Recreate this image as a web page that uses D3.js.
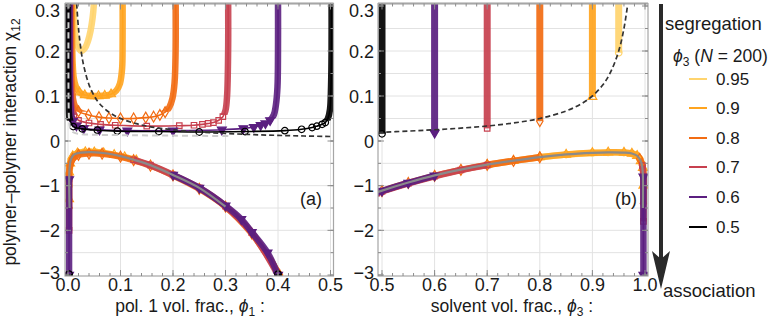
<!DOCTYPE html>
<html>
<head>
<meta charset="utf-8">
<script src="https://cdn.jsdelivr.net/npm/d3@7"></script>
<style>
  html, body { margin: 0; padding: 0; background: #fff; }
  svg { display: block; font-family: "Liberation Sans", Arial, sans-serif; }
</style>
</head>
<body>
<svg id="chart" width="768" height="319"></svg>
<script>
// ---------- values ----------
var phi3 = [0.95, 0.9, 0.8, 0.7, 0.6, 0.5];
var phi3Labels = ["0.95", "0.9", "0.8", "0.7", "0.6", "0.5"];

var xTicksA = [0, 0.1, 0.2, 0.3, 0.4, 0.5];
var xTickLabelsA = ["0.0", "0.1", "0.2", "0.3", "0.4", "0.5"];
var xTicksB = [0.5, 0.6, 0.7, 0.8, 0.9, 1.0];
var xTickLabelsB = ["0.5", "0.6", "0.7", "0.8", "0.9", "1.0"];
var yTicks = [0.3, 0.2, 0.1, 0, -1, -2, -3];
var yTickLabels = ["0.3", "0.2", "0.1", "0", "\u22121", "\u22122", "\u22123"];
var yGrid = [0.25, 0.2, 0.15, 0.1, 0.05, -0.5, -1, -1.5, -2, -2.5];

// (a) segregation branch, chi12 vs phi1 (one U per phi3)
var segA095 = [[0.011,0.33],[0.011,0.29],[0.012,0.26],[0.014,0.235],[0.018,0.212],[0.025,0.2],[0.032,0.206],[0.038,0.222],[0.043,0.245],[0.047,0.275],[0.049,0.3],[0.05,0.33]];
var segA09 = [[0.008,0.33],[0.008,0.22],[0.009,0.17],[0.011,0.14],[0.015,0.121],[0.022,0.108],[0.032,0.102],[0.045,0.1],[0.058,0.1],[0.07,0.101],[0.082,0.104],[0.092,0.112],[0.099,0.128],[0.103,0.16],[0.104,0.22],[0.104,0.33]];
var segA08 = [[0.006,0.33],[0.006,0.2],[0.007,0.13],[0.009,0.098],[0.013,0.078],[0.02,0.066],[0.039,0.058],[0.059,0.053],[0.078,0.051],[0.1,0.05],[0.125,0.05],[0.148,0.052],[0.163,0.054],[0.175,0.058],[0.185,0.064],[0.193,0.075],[0.199,0.095],[0.203,0.13],[0.205,0.2],[0.205,0.33]];
var segA07 = [[0.004,0.33],[0.004,0.2],[0.005,0.11],[0.007,0.075],[0.011,0.056],[0.02,0.046],[0.04,0.04],[0.062,0.037],[0.09,0.035],[0.15,0.033],[0.212,0.034],[0.24,0.035],[0.256,0.037],[0.267,0.039],[0.277,0.041],[0.287,0.046],[0.295,0.054],[0.3,0.068],[0.303,0.1],[0.305,0.2],[0.305,0.33]];
var segA06 = [[0.003,0.33],[0.003,0.2],[0.004,0.1],[0.006,0.06],[0.009,0.044],[0.016,0.034],[0.03,0.028],[0.06,0.025],[0.113,0.023],[0.2,0.023],[0.293,0.025],[0.334,0.028],[0.354,0.031],[0.367,0.035],[0.376,0.039],[0.385,0.046],[0.392,0.058],[0.396,0.08],[0.399,0.12],[0.4,0.2],[0.4,0.33]];
var segA05 = [[0.0,0.33],[0.0,0.2],[0.001,0.1],[0.003,0.05],[0.01,0.032],[0.027,0.027],[0.056,0.024],[0.094,0.022],[0.173,0.021],[0.25,0.02],[0.337,0.021],[0.413,0.023],[0.445,0.026],[0.465,0.03],[0.474,0.033],[0.484,0.037],[0.49,0.041],[0.495,0.05],[0.499,0.07],[0.501,0.12],[0.502,0.2],[0.502,0.33]];

// (a) association branch (chi12 < 0), may have several pieces
var assocA095 = [[[0.002,-1.0],[0.003,-0.6],[0.006,-0.42],[0.011,-0.32],[0.019,-0.27],[0.03,-0.248],[0.042,-0.245],[0.053,-0.25],[0.063,-0.26]]];
var assocA09 = [[[0.002,-1.3],[0.002,-0.7],[0.004,-0.5],[0.009,-0.34],[0.018,-0.275],[0.033,-0.25],[0.05,-0.252],[0.068,-0.27],[0.088,-0.31],[0.108,-0.36],[0.13,-0.43]]];
var assocA08 = [[[0.002,-1.5],[0.002,-0.8],[0.004,-0.55],[0.009,-0.4],[0.02,-0.31],[0.04,-0.28],[0.065,-0.285],[0.1,-0.35],[0.125,-0.43],[0.157,-0.55],[0.2,-0.77],[0.25,-1.07],[0.3,-1.47],[0.35,-2.07],[0.39,-2.75],[0.403,-3.0]]];
var assocA07 = [[[0.002,-2.0],[0.002,-0.85]],[[0.125,-0.42],[0.157,-0.54],[0.2,-0.76],[0.25,-1.05],[0.3,-1.46],[0.35,-2.05],[0.4,-3.0]]];
var assocA06 = [[[0.002,-3.0],[0.002,-0.86]],[[0.2,-0.76],[0.25,-1.05],[0.3,-1.45],[0.33,-1.75],[0.35,-2.04],[0.38,-2.5],[0.4,-3.0]]];
var assocA05 = [[[0.002,-2.98],[0.002,-3.1]],[[0.4,-2.98],[0.402,-3.1]]];
var grayA = [[0.003,-1.5],[0.003,-0.6],[0.006,-0.4],[0.012,-0.3],[0.025,-0.26],[0.045,-0.25],[0.075,-0.28],[0.1,-0.34],[0.125,-0.42],[0.157,-0.54],[0.2,-0.76],[0.25,-1.05],[0.3,-1.47]];

// critical lines (dashed)
var critA = [[0.0165,0.305],[0.02,0.25],[0.025,0.2],[0.03,0.167],[0.04,0.125],[0.05,0.1],[0.06,0.083],[0.08,0.0625],[0.1,0.05],[0.13,0.0385],[0.16,0.031],[0.2,0.025],[0.25,0.02],[0.3,0.0167],[0.35,0.0143],[0.4,0.0125],[0.45,0.0111],[0.5,0.01],[0.51,0.0098]];
var lightA = [[0.001,0.33],[0.001,0.1],[0.002,0.05],[0.004,0.03],[0.009,0.02],[0.02,0.016],[0.05,0.014],[0.1,0.013],[0.2,0.012],[0.31,0.011]];
var critB = [[0.493,0.019],[0.55,0.022],[0.6,0.025],[0.65,0.0286],[0.7,0.0333],[0.75,0.04],[0.8,0.05],[0.85,0.0667],[0.88,0.0833],[0.9,0.1],[0.92,0.125],[0.935,0.154],[0.95,0.2],[0.96,0.25],[0.967,0.303]];

// (b) segregation: vertical band at phi3 starting from this chi
var segBmin = [0.196, 0.098, 0.044, 0.028, 0.018, 0.016];

// (b) association branch, chi12 vs phi3
var assocB095 = [[[0.8,-0.365],[0.85,-0.305],[0.9,-0.268],[0.93,-0.257],[0.96,-0.26],[0.975,-0.28],[0.985,-0.33],[0.99,-0.4]]];
var assocB09 = [[[0.7,-0.535],[0.75,-0.445],[0.8,-0.362],[0.85,-0.302],[0.9,-0.265],[0.93,-0.255],[0.96,-0.258],[0.975,-0.28],[0.985,-0.33],[0.992,-0.45],[0.996,-0.6],[0.997,-1.0]]];
var assocB08 = [[[0.5,-1.12],[0.55,-0.94],[0.6,-0.78],[0.65,-0.645],[0.7,-0.535],[0.75,-0.445],[0.8,-0.365]],[[0.99,-0.4],[0.995,-0.55],[0.997,-0.8],[0.997,-1.4]]];
var assocB07 = [[[0.49,-1.17],[0.5,-1.13],[0.55,-0.95],[0.6,-0.79],[0.65,-0.65],[0.7,-0.54]],[[0.995,-0.55],[0.997,-0.8],[0.997,-1.8]]];
var assocB06 = [[[0.49,-1.16],[0.5,-1.12],[0.55,-0.94],[0.6,-0.775]],[[0.997,-0.8],[0.997,-3.0]]];
var assocB05 = [];
var grayB = [[0.49,-1.15],[0.5,-1.11],[0.55,-0.93],[0.6,-0.77],[0.65,-0.64],[0.7,-0.53],[0.75,-0.44],[0.8,-0.36],[0.85,-0.3],[0.9,-0.265],[0.93,-0.255],[0.96,-0.26],[0.975,-0.28],[0.985,-0.33],[0.992,-0.45],[0.995,-0.6],[0.996,-0.8],[0.996,-1.5]];

// ---------- styles ----------
var colors = ["#FFD46E", "#FFA41F", "#F26C13", "#C7404F", "#5B1F80", "#000000"];
var shapes = ["circle", "triangle", "diamond", "square", "down", "circle"];
// chi above which the markers pile up into a solid band, and top of visible single markers
var segBandFrom = [0, 0, 0.065, 0.058, 0.05, 0.045];
var segMarkTo = [0, 0.11, 0.07, 0.06, 0.05, 0.045];
var segA = [segA095, segA09, segA08, segA07, segA06, segA05];
var assocA = [assocA095, assocA09, assocA08, assocA07, assocA06, assocA05];
var assocB = [assocB095, assocB09, assocB08, assocB07, assocB06, assocB05];

var frameTop = 3.5, frameBottom = 276;
var y = d3.scaleLinear().domain([-3, 0, 0.3]).range([275, 141, 6]);
var xA = d3.scaleLinear().domain([0, 0.5]).range([68, 330.5]);
var xB = d3.scaleLinear().domain([0.5, 1]).range([382, 645]);

var svg = d3.select("#chart");
var defs = svg.append("defs");

function panel(id, x, fx0, fx1, xTicks, xLabels, yLabelX) {
    var g = svg.append("g").attr("class", "panel-" + id);

    // grid
    g.selectAll(".vgrid").data(xTicks).enter().append("line")
        .attr("x1", function (d) { return x(d); }).attr("x2", function (d) { return x(d); })
        .attr("y1", frameTop).attr("y2", frameBottom)
        .attr("stroke", "#e2e2e2").attr("stroke-width", 1);
    g.selectAll(".hgrid").data(yGrid).enter().append("line")
        .attr("x1", fx0).attr("x2", fx1)
        .attr("y1", function (d) { return y(d); }).attr("y2", function (d) { return y(d); })
        .attr("stroke", "#e2e2e2").attr("stroke-width", 1);

    defs.append("clipPath").attr("id", "clip-" + id)
        .append("rect").attr("x", fx0).attr("y", frameTop)
        .attr("width", fx1 - fx0).attr("height", frameBottom - frameTop);

    var plot = g.append("g").attr("clip-path", "url(#clip-" + id + ")");
    var over = g.append("g");

    // frame and ticks (inward, all four sides)
    over.append("rect").attr("x", fx0).attr("y", frameTop)
        .attr("width", fx1 - fx0).attr("height", frameBottom - frameTop)
        .attr("fill", "none").attr("stroke", "#a6a6a6").attr("stroke-width", 1.2);
    over.append("line").attr("x1", fx0).attr("x2", fx1)
        .attr("y1", frameTop).attr("y2", frameTop)
        .attr("stroke", "#a6a6a6").attr("stroke-width", 2);

    var dom = x.domain();
    var xMinor = d3.range(dom[0], dom[1] + 1e-9, 0.02);
    var yMinor = d3.range(0, 0.3001, 0.05).concat(d3.range(0, -3.001, -0.5));
    function xt(v, len) {
        over.append("line").attr("x1", x(v)).attr("x2", x(v))
            .attr("y1", frameBottom).attr("y2", frameBottom - len)
            .attr("stroke", "#8c8c8c").attr("stroke-width", 1);
        over.append("line").attr("x1", x(v)).attr("x2", x(v))
            .attr("y1", frameTop).attr("y2", frameTop + len)
            .attr("stroke", "#8c8c8c").attr("stroke-width", 1);
    }
    function yt(v, len) {
        over.append("line").attr("x1", fx0).attr("x2", fx0 + len)
            .attr("y1", y(v)).attr("y2", y(v))
            .attr("stroke", "#8c8c8c").attr("stroke-width", 1);
        over.append("line").attr("x1", fx1).attr("x2", fx1 - len)
            .attr("y1", y(v)).attr("y2", y(v))
            .attr("stroke", "#8c8c8c").attr("stroke-width", 1);
    }
    xMinor.forEach(function (v) { xt(v, 3); });
    xTicks.forEach(function (v) { xt(v, 6); });
    yMinor.forEach(function (v) { yt(v, 3); });
    yTicks.forEach(function (v) { yt(v, 6); });

    g.selectAll(".xl").data(xTicks).enter().append("text")
        .attr("x", function (d) { return x(d); }).attr("y", 291)
        .attr("text-anchor", "middle").attr("font-size", 18).attr("fill", "#1a1a1a")
        .text(function (d, i) { return xLabels[i]; });
    g.selectAll(".yl").data(yTicks).enter().append("text")
        .attr("x", yLabelX)
        .attr("y", function (d) { return Math.min(Math.max(y(d), 10), 272) + 6.5; })
        .attr("text-anchor", "end").attr("font-size", 18).attr("fill", "#1a1a1a")
        .text(function (d, i) { return yTickLabels[i]; });

    return { plot: plot, over: over };
}

function marker(sel, shape, color, px, py) {
    var type = d3.symbolCircle;
    if (shape === "triangle" || shape === "down") type = d3.symbolTriangle;
    if (shape === "diamond") type = d3.symbolDiamond;
    if (shape === "square") type = d3.symbolSquare;
    var filled = shape === "down";
    sel.append("path")
        .attr("d", d3.symbol().type(type).size(shape === "square" ? 30 : 34)())
        .attr("transform", "translate(" + px + "," + py + ")" + (shape === "down" ? " rotate(180)" : ""))
        .attr("fill", filled ? color : "none")
        .attr("stroke", color).attr("stroke-width", 1.2);
}

function drawSeries(layer, x, pts, color, shape, bandClip, markTo) {
    var line = d3.line()
        .x(function (d) { return x(d[0]); })
        .y(function (d) { return y(d[1]); })
        .curve(d3.curveCatmullRom.alpha(0.5));
    var band = layer.append("path").datum(pts)
        .attr("d", line).attr("fill", "none")
        .attr("stroke", color).attr("stroke-width", 6.5)
        .attr("stroke-linejoin", "round").attr("opacity", 0.9);
    if (bandClip) band.attr("clip-path", "url(#" + bandClip + ")");
    layer.append("path").datum(pts)
        .attr("d", line).attr("fill", "none")
        .attr("stroke", color).attr("stroke-width", 1.6);
    pts.forEach(function (d) {
        if (d[1] <= markTo && d[1] >= -3.05) marker(layer, shape, color, x(d[0]), y(d[1]));
    });
}

// ---------- panel (a) ----------
var pa = panel("a", xA, 65, 333.5, xTicksA, xTickLabelsA, 60);

segA.forEach(function (pts, i) {
    var cid = "band-a-" + i;
    defs.append("clipPath").attr("id", cid)
        .append("rect").attr("x", 0).attr("y", 0)
        .attr("width", 768).attr("height", y(segBandFrom[i]));
    drawSeries(pa.plot, xA, pts, colors[i], shapes[i], cid, segMarkTo[i]);
});
assocA.forEach(function (pieces, i) {
    pieces.forEach(function (pts) { drawSeries(pa.plot, xA, pts, colors[i], shapes[i], null, 0); });
});

var dashLine = d3.line()
    .x(function (d) { return xA(d[0]); })
    .y(function (d) { return y(d[1]); })
    .curve(d3.curveCatmullRom.alpha(0.5));
pa.plot.append("path").datum(grayA).attr("d", dashLine)
    .attr("fill", "none").attr("stroke", "#8a8a8a").attr("stroke-width", 2.2);
pa.plot.append("path").datum(lightA).attr("d", dashLine)
    .attr("fill", "none").attr("stroke", "#cdcdcd").attr("stroke-width", 2)
    .attr("stroke-dasharray", "6,4");
pa.plot.append("path").datum(critA).attr("d", dashLine)
    .attr("fill", "none").attr("stroke", "#333").attr("stroke-width", 1.7)
    .attr("stroke-dasharray", "5,3");

pa.over.append("text").attr("x", 311).attr("y", 205)
    .attr("text-anchor", "middle").attr("font-size", 18).attr("fill", "#1a1a1a").text("(a)");

// ---------- panel (b) ----------
var pb = panel("b", xB, 378, 648, xTicksB, xTickLabelsB, 374);

var lineB = d3.line()
    .x(function (d) { return xB(d[0]); })
    .y(function (d) { return y(d[1]); })
    .curve(d3.curveCatmullRom.alpha(0.5));

phi3.forEach(function (p, i) {
    pb.plot.append("line")
        .attr("x1", xB(p)).attr("x2", xB(p))
        .attr("y1", y(segBmin[i])).attr("y2", y(0.3) - 5)
        .attr("stroke", colors[i]).attr("stroke-width", 7).attr("opacity", 0.92);
    marker(pb.plot, shapes[i], colors[i], xB(p), y(segBmin[i]));
});
assocB.forEach(function (pieces, i) {
    pieces.forEach(function (pts) { drawSeries(pb.plot, xB, pts, colors[i], shapes[i], null, 0); });
});
pb.plot.append("path").datum(grayB).attr("d", lineB)
    .attr("fill", "none").attr("stroke", "#8a8a8a").attr("stroke-width", 2.2);
pb.plot.append("path").datum(critB).attr("d", lineB)
    .attr("fill", "none").attr("stroke", "#333").attr("stroke-width", 1.7)
    .attr("stroke-dasharray", "5,3");

pb.over.append("text").attr("x", 626).attr("y", 205)
    .attr("text-anchor", "middle").attr("font-size", 18).attr("fill", "#1a1a1a").text("(b)");

// ---------- axis titles ----------
var yTitle = svg.append("text")
    .attr("transform", "translate(16,142) rotate(-90)")
    .attr("text-anchor", "middle").attr("font-size", 17.5).attr("fill", "#1a1a1a");
yTitle.append("tspan").text("polymer\u2013polymer interaction \u03c7");
yTitle.append("tspan").attr("font-size", 12).attr("dy", 4).text("12");

var xtA = svg.append("text").attr("x", 190).attr("y", 312)
    .attr("text-anchor", "middle").attr("font-size", 17.5).attr("fill", "#1a1a1a");
xtA.append("tspan").text("pol. 1 vol. frac., ");
xtA.append("tspan").attr("font-style", "italic").text("\u03d5");
xtA.append("tspan").attr("font-size", 12).attr("dy", 4).text("1");
xtA.append("tspan").attr("dy", -4).text(" :");

var xtB = svg.append("text").attr("x", 512).attr("y", 312)
    .attr("text-anchor", "middle").attr("font-size", 17.5).attr("fill", "#1a1a1a");
xtB.append("tspan").text("solvent vol. frac., ");
xtB.append("tspan").attr("font-style", "italic").text("\u03d5");
xtB.append("tspan").attr("font-size", 12).attr("dy", 4).text("3");
xtB.append("tspan").attr("dy", -4).text(" :");

// ---------- legend ----------
var leg = svg.append("g");
leg.append("line").attr("x1", 661).attr("x2", 661).attr("y1", 4).attr("y2", 262)
    .attr("stroke", "#2a2a2a").attr("stroke-width", 4);
leg.append("path").attr("d", "M661,289 L652,251 L661,259 L670,251 Z").attr("fill", "#2a2a2a");
leg.append("text").attr("x", 665).attr("y", 30).attr("font-size", 18.5).attr("fill", "#1a1a1a").text("segregation");
leg.append("text").attr("x", 663).attr("y", 297).attr("font-size", 18.5).attr("fill", "#1a1a1a").text("association");

var lh = leg.append("text").attr("x", 673).attr("y", 62).attr("font-size", 17.5).attr("fill", "#1a1a1a");
lh.append("tspan").attr("font-style", "italic").text("\u03d5");
lh.append("tspan").attr("font-size", 12).attr("dy", 4).text("3");
lh.append("tspan").attr("dy", -4).text(" (");
lh.append("tspan").attr("font-style", "italic").text("N");
lh.append("tspan").text(" = 200)");

var legY = [79, 108, 138, 167, 197, 227];
phi3Labels.forEach(function (lab, i) {
    leg.append("line").attr("x1", 689).attr("x2", 707)
        .attr("y1", legY[i]).attr("y2", legY[i])
        .attr("stroke", colors[i]).attr("stroke-width", 2);
    leg.append("text").attr("x", 716).attr("y", legY[i] + 6)
        .attr("font-size", 17).attr("fill", "#1a1a1a").text(lab);
});
</script>
</body>
</html>
